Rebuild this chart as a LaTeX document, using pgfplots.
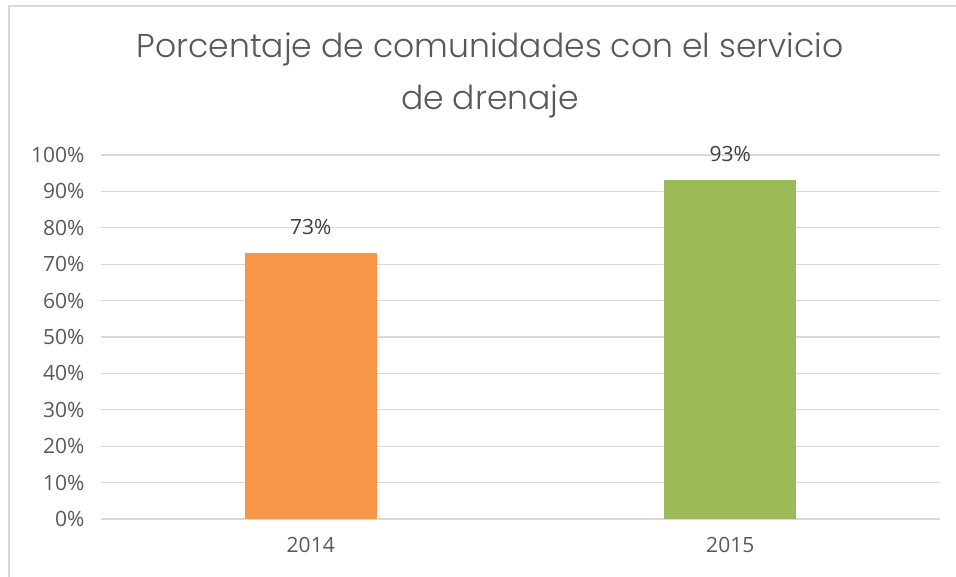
\documentclass[border=0pt]{standalone}
\usepackage{fontspec}
\setmainfont{Open Sans}
\newfontfamily\titlefont{Poppins}[UprightFont = * Light]
\usepackage{pgfplots}
\pgfplotsset{compat=1.18}
\definecolor{txtgray}{HTML}{595959}
\definecolor{lblgray}{HTML}{404040}
\definecolor{gridgray}{HTML}{D9D9D9}
\definecolor{barorange}{HTML}{F79646}
\definecolor{bargreen}{HTML}{9BBB59}
\begin{document}
\begin{tikzpicture}[x=1pt,y=1pt]
  \useasboundingbox (0,0) rectangle (956,577);
  % chart frame
  \draw[gridgray,line width=1.2pt] (9,-5) -- (9,571) -- (960,571);
  % title
  \node[anchor=base,font=\titlefont\fontsize{33}{40}\selectfont,text=txtgray] at (490,519)
    {Porcentaje de comunidades con el servicio};
  \node[anchor=base,font=\titlefont\fontsize{33}{40}\selectfont,text=txtgray] at (490,467)
    {de drenaje};
  \begin{axis}[
    at={(101pt,58pt)}, anchor=south west,
    scale only axis,
    width=839pt, height=364pt,
    xmin=-0.5, xmax=1.5,
    ymin=0, ymax=100,
    ybar, bar width=132pt,
    xtick={0,1}, xticklabels={2014,2015},
    ytick={0,10,...,100},
    yticklabel={\pgfmathprintnumber{\tick}\%},
    /pgf/number format/assume math mode=true,
    ymajorgrids, grid style={gridgray,line width=1.2pt},
    axis line style={draw=none},
    axis x line*=bottom,
    x axis line style={gridgray,line width=1.2pt},
    major tick length=0pt,
    tick style={draw=none},
    ticklabel style={font=\fontsize{21}{25}\selectfont,text=txtgray},
    yticklabel style={xshift=-13pt},
    xticklabel style={yshift=-15pt},
    nodes near coords={\pgfmathprintnumber{\pgfplotspointmeta}\%},
    nodes near coords style={font=\fontsize{21}{25}\selectfont,text=lblgray,yshift=15pt},
  ]
    \addplot[fill=barorange,draw=none,bar shift=0pt] coordinates {(0,73)};
    \addplot[fill=bargreen,draw=none,bar shift=0pt] coordinates {(1,93)};
  \end{axis}
\end{tikzpicture}
\end{document}
